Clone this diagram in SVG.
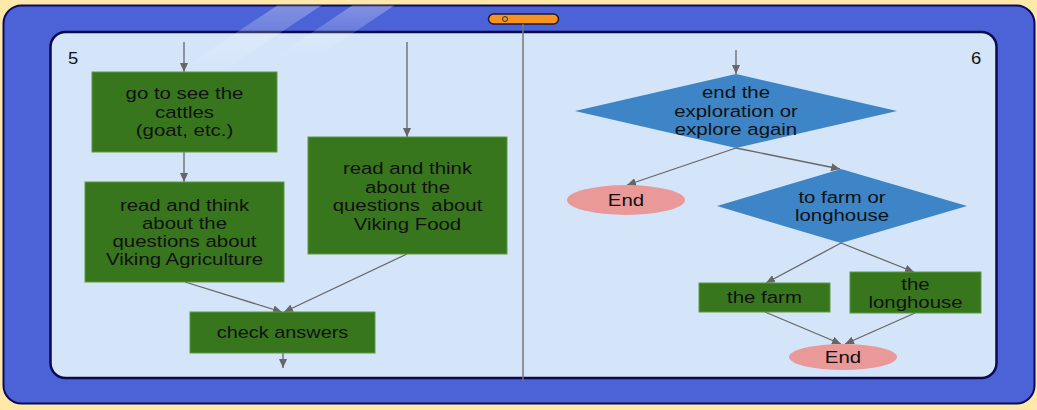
<svg xmlns="http://www.w3.org/2000/svg" width="1037" height="410" viewBox="0 0 1037 410">
<defs>
<style>
.t{font-family:"Liberation Sans",Arial,sans-serif;font-size:17px;fill:#111;text-anchor:middle}
.n{font-family:"Liberation Sans",Arial,sans-serif;font-size:16px;fill:#111}
.box{fill:#38761D;stroke:#5b9a3c;stroke-width:1}
.dia{fill:#3D85C6}
.end{fill:#EA9999}
.c{stroke:#666;stroke-width:1.3;fill:none;marker-end:url(#ah)}
</style>
<marker id="ah" markerUnits="userSpaceOnUse" markerWidth="10" markerHeight="8" refX="9" refY="4" orient="auto">
<path d="M0,0 L9,4 L0,8 z" fill="#666"/>
</marker>
<linearGradient id="gl" x1="0" y1="0" x2="0" y2="1">
<stop offset="0" stop-color="#fff" stop-opacity="0.3"/>
<stop offset="1" stop-color="#fff" stop-opacity="0"/>
</linearGradient>
<clipPath id="frameClip"><rect x="3.5" y="5.5" width="1031" height="398" rx="18"/></clipPath>
</defs>
<rect width="1037" height="410" fill="#FFE8A8"/>
<g id="frame">
<rect x="3.5" y="5.5" width="1031" height="398" rx="18" fill="#4B63D6" stroke="#0A0A5E" stroke-width="2"/>
<rect x="50.5" y="32" width="946" height="346" rx="15" fill="#D4E5F9" stroke="#0A0A4F" stroke-width="2.5"/>
<g clip-path="url(#frameClip)">
<polygon points="278,5 322,5 212,78 168,78" fill="url(#gl)"/>
<polygon points="353,5 395,5 310,62 268,62" fill="url(#gl)"/>
</g>
<rect x="488.5" y="14" width="70" height="10" rx="5" fill="#F7931E" stroke="#1a1a3a" stroke-width="1.5"/>
<circle cx="505" cy="19" r="2.5" fill="none" stroke="#333" stroke-width="1"/>
<line x1="523" y1="24" x2="523" y2="381" stroke="#777" stroke-width="1.5"/>
<text class="n" transform="translate(68,0) scale(1.15,1)" x="0" y="64">5</text>
<text class="n" transform="translate(971,0) scale(1.15,1)" x="0" y="64">6</text>
</g>
<g id="connectors">
<line class="c" x1="184" y1="42" x2="184" y2="72"/>
<line class="c" x1="184" y1="152" x2="184" y2="182"/>
<line class="c" x1="407" y1="42" x2="407" y2="137"/>
<line class="c" x1="185" y1="282" x2="282" y2="312"/>
<line class="c" x1="407" y1="254" x2="284" y2="312"/>
<line class="c" x1="283" y1="353" x2="283" y2="368"/>
<line class="c" x1="736" y1="50" x2="736" y2="74"/>
<line class="c" x1="736" y1="148" x2="627" y2="185"/>
<line class="c" x1="736" y1="148" x2="840" y2="169"/>
<line class="c" x1="841" y1="243" x2="766" y2="283"/>
<line class="c" x1="841" y1="243" x2="914" y2="272"/>
<line class="c" x1="765" y1="312" x2="841" y2="344"/>
<line class="c" x1="915" y1="313" x2="845" y2="344"/>
</g>
<g id="cattles">
<rect class="box" x="92" y="72" width="185" height="80"/>
<text class="t" transform="translate(184.5,0) scale(1.2,1)"><tspan x="0" y="99.5">go to see the</tspan><tspan x="0" y="118">cattles</tspan><tspan x="0" y="136.5">(goat, etc.)</tspan></text>
</g>
<g id="agriculture">
<rect class="box" x="85" y="182" width="199" height="100"/>
<text class="t" transform="translate(184.5,0) scale(1.2,1)"><tspan x="0" y="211.5">read and think</tspan><tspan x="0" y="229.5">about the</tspan><tspan x="0" y="247.5">questions about</tspan><tspan x="0" y="265.5">Viking Agriculture</tspan></text>
</g>
<g id="food">
<rect class="box" x="308" y="137" width="199" height="117"/>
<text class="t" transform="translate(407.5,0) scale(1.2,1)" xml:space="preserve"><tspan x="0" y="174.5">read and think</tspan><tspan x="0" y="193">about the</tspan><tspan x="0" y="211.5">questions  about</tspan><tspan x="0" y="230">Viking Food</tspan></text>
</g>
<g id="check">
<rect class="box" x="190" y="312" width="185" height="41"/>
<text class="t" transform="translate(282.5,0) scale(1.17,1)" x="0" y="338.5">check answers</text>
</g>
<g id="decision1">
<polygon class="dia" points="736,74 897,111 736,148 575,111"/>
<text class="t" transform="translate(736,0) scale(1.2,1)"><tspan x="0" y="98.5">end the</tspan><tspan x="0" y="117">exploration or</tspan><tspan x="0" y="135.5">explore again</tspan></text>
</g>
<g id="end1">
<ellipse class="end" cx="626" cy="200" rx="59" ry="15"/>
<text class="t" transform="translate(626,0) scale(1.2,1)" x="0" y="206.5">End</text>
</g>
<g id="decision2">
<polygon class="dia" points="841,169 967,206 841,243 717,206"/>
<text class="t" transform="translate(842,0) scale(1.2,1)"><tspan x="0" y="203.5">to farm or</tspan><tspan x="0" y="221.5">longhouse</tspan></text>
</g>
<g id="farm">
<rect class="box" x="699" y="283" width="131" height="29"/>
<text class="t" transform="translate(764.5,0) scale(1.2,1)" x="0" y="303.5">the farm</text>
</g>
<g id="longhouse">
<rect class="box" x="850" y="272" width="131" height="41"/>
<text class="t" transform="translate(915.5,0) scale(1.2,1)"><tspan x="0" y="290.5">the</tspan><tspan x="0" y="308">longhouse</tspan></text>
</g>
<g id="end2">
<ellipse class="end" cx="843" cy="357" rx="54" ry="13"/>
<text class="t" transform="translate(843,0) scale(1.2,1)" x="0" y="363">End</text>
</g>
</svg>
